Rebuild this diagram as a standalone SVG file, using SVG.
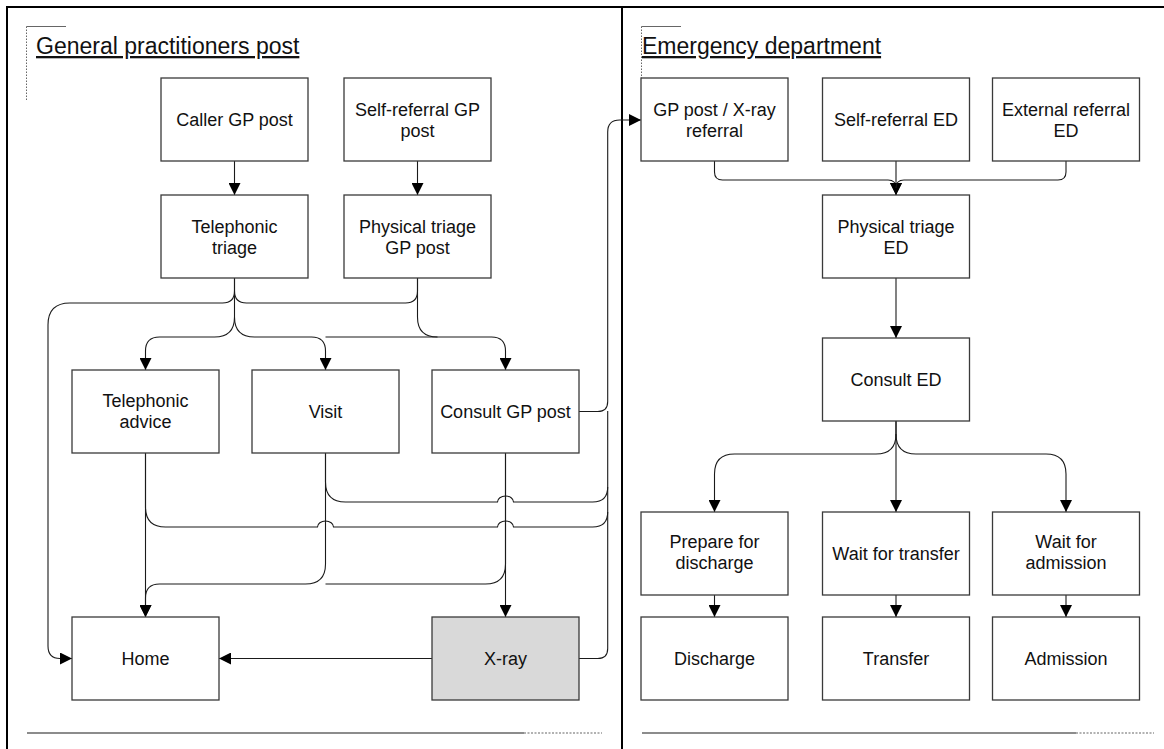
<svg xmlns="http://www.w3.org/2000/svg" width="1164" height="749" viewBox="0 0 1164 749">
  <style>
    .frame { stroke: #000; stroke-width: 2; fill: none; }
    .box { fill: #fff; stroke: #3a3a3a; stroke-width: 1.3; }
    .box.xray { fill: #d9d9d9; }
    .lbl { font-family: "Liberation Sans", Arial, sans-serif; font-size: 18px; fill: #111; text-anchor: middle; }
    .title { font-family: "Liberation Sans", Arial, sans-serif; font-size: 23px; fill: #111; text-decoration: underline; }
    .con { fill: none; stroke: #1a1a1a; stroke-width: 1.1; }
    .arr { marker-end: url(#ah); }
    .brk { fill: none; stroke: #666; stroke-width: 1; }
    .brk.dot { stroke-dasharray: 1.5 1.5; }
    .foot { fill: none; stroke: #666; stroke-width: 1.6; }
    .foot.dot { stroke: #999; stroke-dasharray: 2 1.5; stroke-width: 1.4; }
  </style>
  <defs>
    <marker id="ah" markerUnits="userSpaceOnUse" markerWidth="12" markerHeight="12" refX="12" refY="6" orient="auto">
      <path d="M0,0 L12,6 L0,12 Z" fill="#000"/>
    </marker>
  </defs>

  <rect width="1164" height="749" fill="#fff"/>

  <!-- outer frame and panel divider -->
  <g id="frame">
    <line class="frame" x1="6" y1="7" x2="1164" y2="7"/>
    <line class="frame" x1="7" y1="6" x2="7" y2="749"/>
    <line class="frame" x1="622" y1="7" x2="622" y2="749"/>
  </g>

  <!-- panel headings -->
  <g id="gp-heading">
    <path class="brk" d="M26.5,26.5 H66"/>
    <path class="brk dot" d="M26.5,26.5 V101"/>
    <text class="title" x="36" y="54">General practitioners post</text>
    <path class="foot" d="M27,733 H524"/>
    <path class="foot dot" d="M524,733 H602"/>
  </g>
  <g id="ed-heading">
    <path class="brk" d="M641.5,26.5 H681"/>
    <path class="brk dot" d="M641.5,26.5 V101"/>
    <text class="title" x="642" y="54">Emergency department</text>
    <path class="foot" d="M642,733 H1076"/>
    <path class="foot dot" d="M1076,733 H1154"/>
  </g>

  <!-- connectors -->
  <g id="connectors">
    <!-- general practitioners post -->
    <path class="con arr" d="M234.5,161 V195"/>
    <path class="con arr" d="M417.5,161 V195"/>
    <path class="con arr" d="M234.5,278 V291 Q234.5,303 222.5,303 H70 Q48,303 48,325 V646 Q48,658.5 60,658.5 H72"/>
    <path class="con" d="M417.5,278 V291 Q417.5,303 405.5,303 H246.5 Q234.5,303 234.5,291"/>
    <path class="con arr" d="M234.5,278 V317 Q234.5,337 214.5,337 H159.5 Q145.5,337 145.5,351 V370"/>
    <path class="con arr" d="M234.5,317 Q234.5,337 254.5,337 H311.5 Q325.5,337 325.5,351 V370"/>
    <path class="con arr" d="M325.5,337 H491.5 Q505.5,337 505.5,351 V370"/>
    <path class="con" d="M417.5,278 V317 Q417.5,337 437.5,337"/>
    <path class="con arr" d="M145.5,453 V617"/>
    <path class="con" d="M145.5,453 V507 Q145.5,527 165.5,527 H317.5 a8,6 0 0 1 16,0 H497.5 a8,6 0 0 1 16,0 H592.7 Q607.7,527 607.7,512"/>
    <path class="con" d="M325.5,453 V482 Q325.5,502 345.5,502 H497.5 a8,6 0 0 1 16,0 H592.7 Q607.7,502 607.7,487"/>
    <path class="con arr" d="M325.5,453 V564 Q325.5,584 305.5,584 H159.5 Q145.5,584 145.5,598 V617"/>
    <path class="con arr" d="M505.5,453 V617"/>
    <path class="con" d="M505.5,453 V564 Q505.5,584 485.5,584 H325.5"/>
    <path class="con arr" d="M579,411.5 H597.7 Q607.7,411.5 607.7,401.5 V132 Q607.7,120 619.7,120 H641"/>
    <path class="con" d="M579,658.5 H597.7 Q607.7,658.5 607.7,648.5 V411"/>
    <path class="con arr" d="M432,658.5 H219"/>
    <!-- emergency department -->
    <path class="con arr" d="M714.5,161 V172 Q714.5,180 722.5,180 H888 Q896,180 896,188 V195"/>
    <path class="con arr" d="M896,161 V195"/>
    <path class="con" d="M1066,161 V172 Q1066,180 1058,180 H904 Q896,180 896,188"/>
    <path class="con arr" d="M896,278 V338"/>
    <path class="con arr" d="M896,421 V434 Q896,454 876,454 H734.5 Q714.5,454 714.5,474 V512"/>
    <path class="con arr" d="M896,421 V512"/>
    <path class="con arr" d="M896,434 Q896,454 916,454 H1046 Q1066,454 1066,474 V512"/>
    <path class="con arr" d="M714.5,595 V617"/>
    <path class="con arr" d="M896,595 V617"/>
    <path class="con arr" d="M1066,595 V617"/>
  </g>

  <!-- general practitioners post nodes -->
  <g id="caller-gp-post">
    <rect class="box" x="161" y="78" width="147" height="83"/>
    <text class="lbl" x="234.5" y="126">Caller GP post</text>
  </g>
  <g id="self-referral-gp-post">
    <rect class="box" x="344" y="78" width="147" height="83"/>
    <text class="lbl" x="417.5" y="115.5">Self-referral GP</text>
    <text class="lbl" x="417.5" y="136.5">post</text>
  </g>
  <g id="telephonic-triage">
    <rect class="box" x="161" y="195" width="147" height="83"/>
    <text class="lbl" x="234.5" y="232.5">Telephonic</text>
    <text class="lbl" x="234.5" y="253.5">triage</text>
  </g>
  <g id="physical-triage-gp-post">
    <rect class="box" x="344" y="195" width="147" height="83"/>
    <text class="lbl" x="417.5" y="232.5">Physical triage</text>
    <text class="lbl" x="417.5" y="253.5">GP post</text>
  </g>
  <g id="telephonic-advice">
    <rect class="box" x="72" y="370" width="147" height="83"/>
    <text class="lbl" x="145.5" y="407">Telephonic</text>
    <text class="lbl" x="145.5" y="428">advice</text>
  </g>
  <g id="visit">
    <rect class="box" x="252" y="370" width="147" height="83"/>
    <text class="lbl" x="325.5" y="418">Visit</text>
  </g>
  <g id="consult-gp-post">
    <rect class="box" x="432" y="370" width="147" height="83"/>
    <text class="lbl" x="505.5" y="418">Consult GP post</text>
  </g>
  <g id="home">
    <rect class="box" x="72" y="617" width="147" height="83"/>
    <text class="lbl" x="145.5" y="665">Home</text>
  </g>
  <g id="x-ray">
    <rect class="box xray" x="432" y="617" width="147" height="83"/>
    <text class="lbl" x="505.5" y="665">X-ray</text>
  </g>

  <!-- emergency department nodes -->
  <g id="gp-post-x-ray-referral">
    <rect class="box" x="641" y="78" width="147" height="83"/>
    <text class="lbl" x="714.5" y="115.5">GP post / X-ray</text>
    <text class="lbl" x="714.5" y="136.5">referral</text>
  </g>
  <g id="self-referral-ed">
    <rect class="box" x="822.5" y="78" width="147" height="83"/>
    <text class="lbl" x="896" y="126">Self-referral ED</text>
  </g>
  <g id="external-referral-ed">
    <rect class="box" x="992.5" y="78" width="147" height="83"/>
    <text class="lbl" x="1066" y="115.5">External referral</text>
    <text class="lbl" x="1066" y="136.5">ED</text>
  </g>
  <g id="physical-triage-ed">
    <rect class="box" x="822.5" y="195" width="147" height="83"/>
    <text class="lbl" x="896" y="232.5">Physical triage</text>
    <text class="lbl" x="896" y="253.5">ED</text>
  </g>
  <g id="consult-ed">
    <rect class="box" x="822.5" y="338" width="147" height="83"/>
    <text class="lbl" x="896" y="386">Consult ED</text>
  </g>
  <g id="prepare-for-discharge">
    <rect class="box" x="641" y="512" width="147" height="83"/>
    <text class="lbl" x="714.5" y="548">Prepare for</text>
    <text class="lbl" x="714.5" y="569">discharge</text>
  </g>
  <g id="wait-for-transfer">
    <rect class="box" x="822.5" y="512" width="147" height="83"/>
    <text class="lbl" x="896" y="560">Wait for transfer</text>
  </g>
  <g id="wait-for-admission">
    <rect class="box" x="992.5" y="512" width="147" height="83"/>
    <text class="lbl" x="1066" y="548">Wait for</text>
    <text class="lbl" x="1066" y="569">admission</text>
  </g>
  <g id="discharge">
    <rect class="box" x="641" y="617" width="147" height="83"/>
    <text class="lbl" x="714.5" y="665">Discharge</text>
  </g>
  <g id="transfer">
    <rect class="box" x="822.5" y="617" width="147" height="83"/>
    <text class="lbl" x="896" y="665">Transfer</text>
  </g>
  <g id="admission">
    <rect class="box" x="992.5" y="617" width="147" height="83"/>
    <text class="lbl" x="1066" y="665">Admission</text>
  </g>
</svg>
